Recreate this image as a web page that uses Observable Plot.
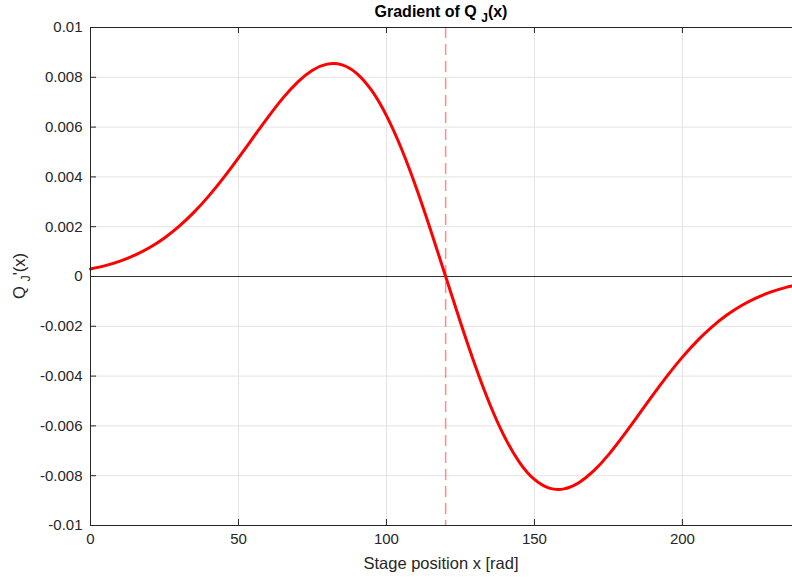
<!DOCTYPE html>
<html>
<head>
<meta charset="utf-8">
<script src="https://cdn.jsdelivr.net/npm/d3@7"></script>
<script src="https://cdn.jsdelivr.net/npm/@observablehq/plot@0.6"></script>
<style>
  body { margin: 0; background: #fff; }
  svg { font-family: "Liberation Sans", Arial, Helvetica, sans-serif; }
</style>
</head>
<body>
<div id="chart"></div>
<script>
// Data
const xPos = [0,5,10,15,20,25,30,35,40,45,50,55,60,65,70,75,80,85,90,95,100,105,110,115,120,
              125,130,135,140,145,150,155,160,165,170,175,180,185,190,195,200,205,210,215,220,225,230,235,237.2];
const grad = [0.000304,0.000438,0.000618,0.000857,0.001163,0.001549,0.002022,0.002584,0.003238,0.003969,
              0.004761,0.005585,0.006399,0.007162,0.007808,0.008281,0.008530,0.008498,0.008152,0.007471,
              0.006461,0.005149,0.003585,0.001840,0,
              -0.001840,-0.003585,-0.005149,-0.006461,-0.007471,-0.008152,-0.008498,-0.008530,-0.008281,-0.007808,
              -0.007162,-0.006399,-0.005585,-0.004761,-0.003969,-0.003238,-0.002584,-0.002022,-0.001549,-0.001163,
              -0.000857,-0.000618,-0.000438,-0.000379];
const xTicks = [0, 50, 100, 150, 200];
const yTicks = [-0.01,-0.008,-0.006,-0.004,-0.002,0,0.002,0.004,0.006,0.008,0.01];
const zeroCross = [120];
const xDomain = [0, 237.2];
const yDomain = [-0.01, 0.01];
const titleParts = ["Gradient of Q", "J", "(x)"];
const yLabelParts = ["Q", "J", "'(x)"];
const xLabel = "Stage position x [rad]";

const data = xPos.map((x, i) => ({x, y: grad[i]}));

const W = 792, H = 578, mL = 90, mR = 0, mT = 27, mB = 53;
const plotW = W - mL - mR, plotH = H - mT - mB;
const axisColor = "#262626";
const gridColor = "#e3e3e3";
const fmtY = d => String(+d.toFixed(3));

const chart = Plot.plot({
  width: W, height: H,
  marginLeft: mL, marginRight: mR, marginTop: mT, marginBottom: mB,
  style: {fontFamily: "'Liberation Sans', Arial, sans-serif", fontSize: "15px", color: axisColor, background: "#fff"},
  x: {domain: xDomain, label: null},
  y: {domain: yDomain, label: null},
  marks: [
    Plot.gridX(xTicks, {stroke: gridColor, strokeOpacity: 1}),
    Plot.gridY(yTicks, {stroke: gridColor, strokeOpacity: 1}),
    Plot.ruleY([0], {stroke: "#333", strokeWidth: 1}),
    Plot.ruleX(zeroCross, {stroke: "#ff8c8c", strokeWidth: 1.5, strokeDasharray: "11,6"}),
    Plot.line(data, {x: "x", y: "y", stroke: "#ff0000", strokeWidth: 3, curve: "natural"}),
    // box lines
    Plot.ruleX([xDomain[0]], {stroke: axisColor, strokeWidth: 1}),
    Plot.ruleY(yDomain, {stroke: axisColor, strokeWidth: 1}),
    // inward ticks
    Plot.ruleX(xTicks, {stroke: axisColor, insetTop: plotH - 6}),
    Plot.ruleX(xTicks, {stroke: axisColor, insetBottom: plotH - 6}),
    Plot.ruleY(yTicks, {stroke: axisColor, insetRight: plotW - 6}),
    Plot.axisX(xTicks, {tickSize: 0, tickPadding: 8, tickFormat: d => String(d), fontSize: 15, fill: axisColor}),
    Plot.axisY(yTicks, {tickSize: 0, tickPadding: 8, tickFormat: fmtY, fontSize: 15, fill: axisColor})
  ]
});

const svg = d3.select(chart);
const cx = mL + plotW / 2;

// Title
const t = svg.append("text")
  .attr("x", cx).attr("y", 17)
  .attr("text-anchor", "middle")
  .attr("font-weight", "bold").attr("font-size", 16).attr("fill", "#000");
t.append("tspan").text(titleParts[0] + " ");
t.append("tspan").attr("dy", 5).attr("font-size", 12).text(titleParts[1]);
t.append("tspan").attr("dy", -5).text(titleParts[2]);

// X label
svg.append("text")
  .attr("x", cx).attr("y", 569)
  .attr("text-anchor", "middle").attr("font-size", 16.5).attr("fill", axisColor)
  .text(xLabel);

// Y label
const yl = svg.append("text")
  .attr("transform", `translate(25,${mT + plotH / 2}) rotate(-90)`)
  .attr("text-anchor", "middle").attr("font-size", 16.5).attr("fill", axisColor);
yl.append("tspan").text(yLabelParts[0] + " ");
yl.append("tspan").attr("dy", 5).attr("font-size", 12.5).text(yLabelParts[1]);
yl.append("tspan").attr("dy", -5).text(yLabelParts[2]);

document.getElementById("chart").appendChild(chart);
</script>
</body>
</html>
